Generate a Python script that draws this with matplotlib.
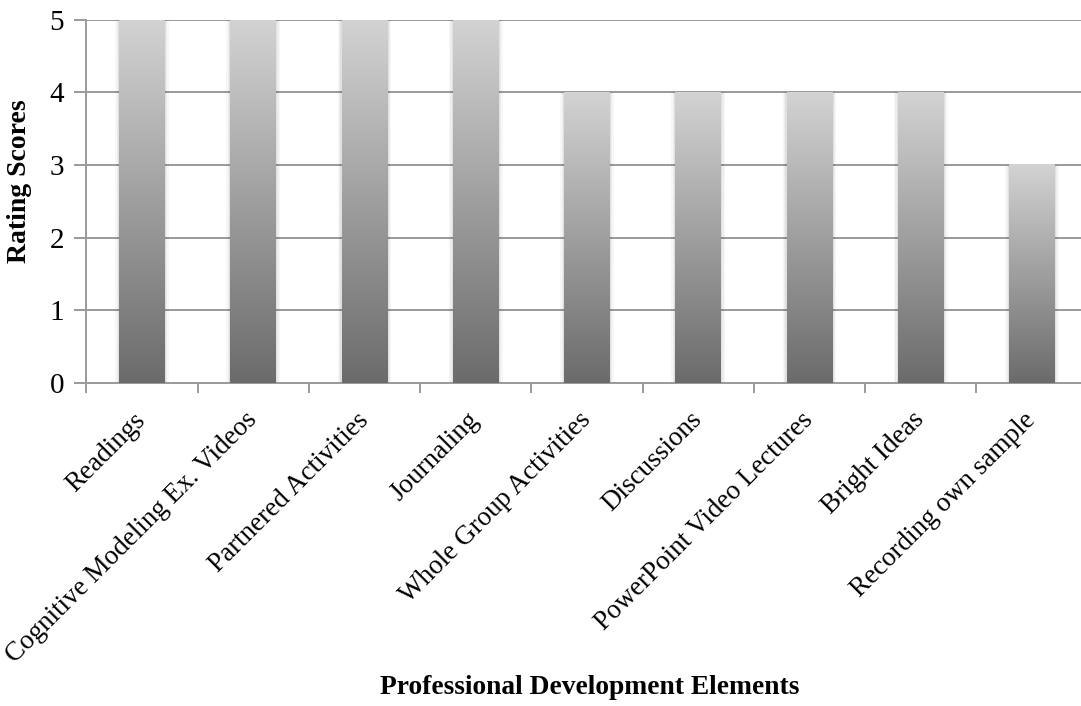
import numpy as np
import matplotlib
matplotlib.use("Agg")
import matplotlib.pyplot as plt
from matplotlib.colors import LinearSegmentedColormap
from matplotlib.patches import Rectangle

categories = [
    "Readings",
    "Cognitive Modeling Ex. Videos",
    "Partnered Activities",
    "Journaling",
    "Whole Group Activities",
    "Discussions",
    "PowerPoint Video Lectures",
    "Bright Ideas",
    "Recording own sample",
]
scores = [5, 5, 5, 5, 4, 4, 4, 4, 3]
y_ticks = [0, 1, 2, 3, 4, 5]

plt.rcParams["font.family"] = ["Liberation Serif", "DejaVu Serif"]

W, H = 1081, 706
fig = plt.figure(figsize=(W / 100, H / 100), dpi=100)
left, right, top, bottom = 86.4, 1087.6, 19.5, 383
ax = fig.add_axes([left / W, 1 - bottom / H, (right - left) / W, (bottom - top) / H])

x = np.arange(len(categories))
bar_w = 0.41
bars = ax.bar(x, scores, width=bar_w, color="none", edgecolor="none", zorder=3)

grad_cmap = LinearSegmentedColormap.from_list("bar_grad", ["#6b6b6b", "#d3d3d3"])
grad = np.linspace(0, 1, 256).reshape(-1, 1)

for b in bars:
    x0, w, h = b.get_x(), b.get_width(), b.get_height()
    # soft shadow around each bar
    for i, a in enumerate([0.05, 0.04, 0.03]):
        pad = 0.012 * (i + 1)
        ax.add_patch(Rectangle((x0 - pad, 0), w + 2 * pad, h, facecolor="black",
                               alpha=a, edgecolor="none", zorder=2))
    ax.imshow(grad, extent=[x0, x0 + w, 0, h], origin="lower", aspect="auto",
              cmap=grad_cmap, zorder=4, interpolation="bilinear")

ax.set_xlim(-0.5, len(categories) - 0.5)
ax.set_ylim(0, 5)
ax.set_yticks(y_ticks)
ax.set_yticklabels([str(t) for t in y_ticks], fontsize=21)
ax.yaxis.grid(True, color="#9a9a9a", linewidth=1.4, zorder=1)
ax.set_axisbelow(True)

ax.set_xticks(np.arange(len(categories) + 1) - 0.5, minor=False)
ax.set_xticklabels([])
ax.set_xticks(x, minor=True)
ax.set_xticklabels(categories, minor=True, rotation=45, ha="right", va="center",
                   rotation_mode="anchor", fontsize=19.5)
ax.tick_params(axis="x", which="minor", length=0, pad=24)
ax.tick_params(axis="x", which="major", length=7, color="#9a9a9a", width=1.4)
ax.tick_params(axis="y", length=9, color="#9a9a9a", width=1.4, pad=7)

for s in ["top", "right"]:
    ax.spines[s].set_visible(False)
for s in ["left", "bottom"]:
    ax.spines[s].set_color("#9a9a9a")
    ax.spines[s].set_linewidth(1.4)

fig.text(20 / W, 1 - 181 / H, "Rating Scores", rotation=90, ha="center",
         va="center", fontsize=20, fontweight="bold")
fig.text(590 / W, 1 - 688 / H, "Professional Development Elements", ha="center",
         va="center", fontsize=19.8, fontweight="bold")

fig.savefig("out.png", dpi=100)
